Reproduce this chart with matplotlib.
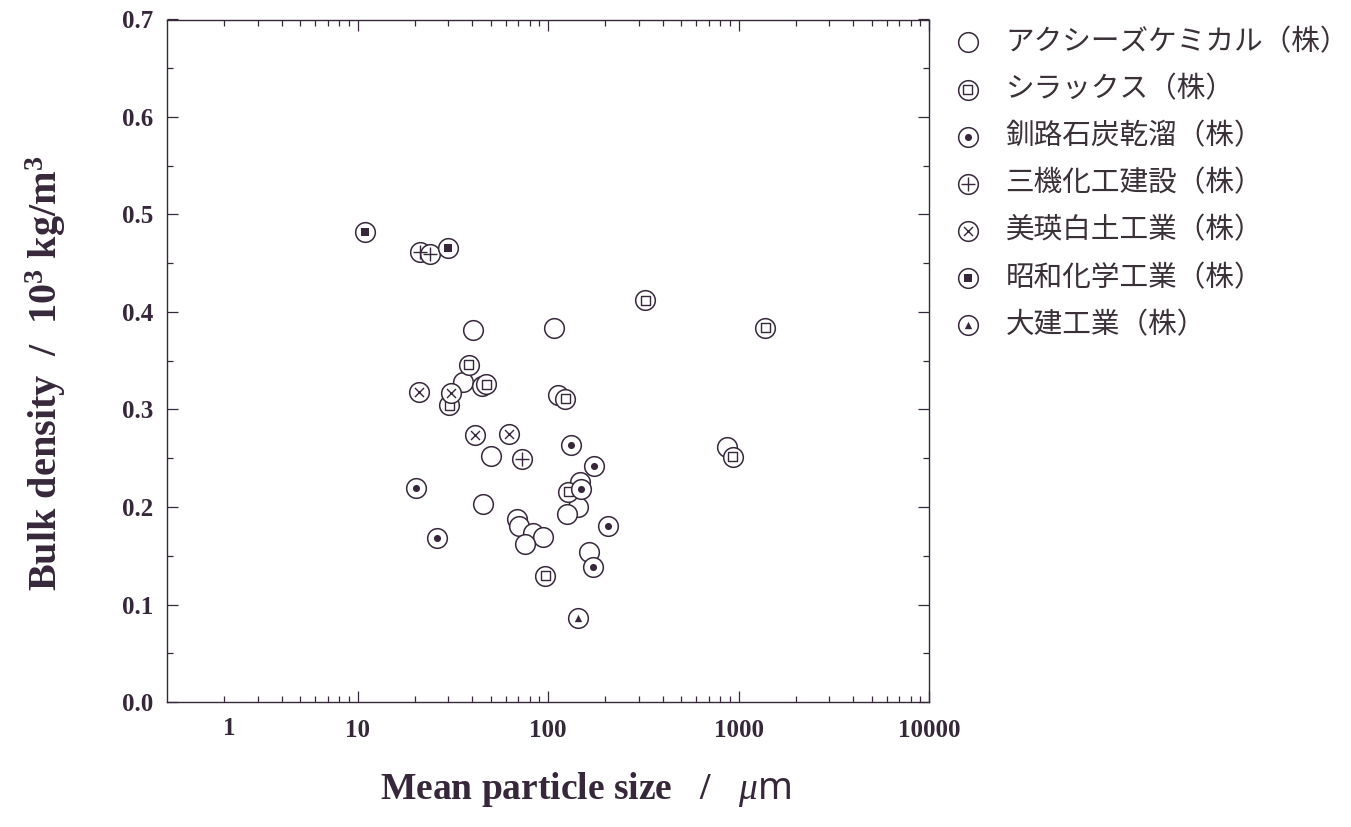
import matplotlib
matplotlib.use("Agg")
import matplotlib.pyplot as plt
from matplotlib.ticker import LogLocator, NullFormatter, MultipleLocator, FixedLocator

plt.rcParams['mathtext.fontset'] = 'custom'
plt.rcParams['mathtext.rm'] = 'Liberation Serif:bold'
plt.rcParams['mathtext.it'] = 'Liberation Serif:italic'
plt.rcParams['mathtext.bf'] = 'Liberation Serif:bold'
plt.rcParams['mathtext.sf'] = 'Noto Sans'

# mean particle size (um) and bulk density (10^3 kg/m^3) per supplier
acsys_size = [40.3, 107.6, 35.7, 45.3, 113, 50.3, 146.8, 45.5, 143.9, 126.4,
              68.9, 70.1, 83.4, 94.1, 76.0, 164.3, 872]
acsys_dens = [0.382, 0.384, 0.3285, 0.324, 0.315, 0.2523, 0.226, 0.2028, 0.1997, 0.1928,
              0.188, 0.1805, 0.1736, 0.1695, 0.162, 0.154, 0.2618]

silax_size = [323, 1382, 38.4, 47.3, 30.4, 123, 127.4, 96.8, 933]
silax_dens = [0.412, 0.384, 0.346, 0.326, 0.3046, 0.311, 0.2157, 0.1295, 0.2516]

kushiro_size = [132.7, 174.6, 20.4, 149.7, 207, 26.2, 172.6]
kushiro_dens = [0.2636, 0.242, 0.219, 0.218, 0.1805, 0.1685, 0.138]

sanki_size = [21.4, 23.9, 73.0]
sanki_dens = [0.462, 0.460, 0.249]

bihoku_size = [21.1, 31.0, 41.6, 62.1]
bihoku_dens = [0.318, 0.3166, 0.274, 0.2745]

showa_size = [10.9, 30.0]
showa_dens = [0.482, 0.466]

daiken_size = [143.9]
daiken_dens = [0.0858]

labels = ['アクシーズケミカル（株）', 'シラックス（株）', '釧路石炭乾溜（株）', '三機化工建設（株）',
          '美瑛白土工業（株）', '昭和化学工業（株）', '大建工業（株）']

ink = '#36283a'

# inner symbol for each supplier: (marker, size, filled)
inner = [None,
         ('s', 42, False),
         ('o', 26, True),
         ('+', 95, False),
         ('x', 42, False),
         ('s', 34, True),
         ('^', 28, True)]

series = [(acsys_size, acsys_dens), (silax_size, silax_dens), (kushiro_size, kushiro_dens),
          (sanki_size, sanki_dens), (bihoku_size, bihoku_dens), (showa_size, showa_dens),
          (daiken_size, daiken_dens)]

fig = plt.figure(figsize=(13.51, 8.27), dpi=100)
ax = fig.add_axes([167 / 1351, 1 - 702 / 827, 762 / 1351, 682.5 / 827])

handles = []
for i, ((xs, ys), sym) in enumerate(zip(series, inner)):
    outer = ax.scatter(xs, ys, s=200, marker='o', facecolor='white', edgecolor=ink,
                       linewidth=1.1, zorder=3 + 2 * i)
    if sym is None:
        handles.append(outer)
        continue
    m, sz, filled = sym
    if m in ('+', 'x'):
        dot = ax.scatter(xs, ys, s=sz, marker=m, color=ink, linewidth=1.0, zorder=4 + 2 * i)
    elif filled:
        dot = ax.scatter(xs, ys, s=sz, marker=m, color=ink, linewidth=0, zorder=4 + 2 * i)
    else:
        dot = ax.scatter(xs, ys, s=sz, marker=m, facecolor='none', edgecolor=ink,
                         linewidth=1.0, zorder=4 + 2 * i)
    handles.append((outer, dot))

ax.set_xscale('log')
ax.set_xlim(1, 10000)
ax.set_ylim(0, 0.7)

ax.xaxis.set_major_locator(FixedLocator([10, 100, 1000, 10000]))
ax.set_xticklabels(['10', '100', '1000', '10000'])
ax.xaxis.set_minor_locator(LogLocator(base=10, subs=range(2, 10), numticks=20))
ax.xaxis.set_minor_formatter(NullFormatter())
ax.yaxis.set_major_locator(MultipleLocator(0.1))
ax.yaxis.set_minor_locator(MultipleLocator(0.05))
ax.yaxis.set_major_formatter(plt.FuncFormatter(lambda v, p: f'{v:.1f}'))

ax.tick_params(which='both', direction='in', top=True, right=True, color=ink, width=0.9)
ax.tick_params(which='major', length=8)
ax.tick_params(which='minor', length=4)
ax.tick_params(axis='x', pad=12)
ax.tick_params(axis='y', pad=10)
for lbl in ax.get_xticklabels() + ax.get_yticklabels():
    lbl.set_fontfamily('Liberation Serif')
    lbl.set_fontweight('bold')
    lbl.set_fontsize(18)
    lbl.set_color(ink)
for sp in ax.spines.values():
    sp.set_color(ink)
    sp.set_linewidth(1.0)

# the "1" label sits right of the corner to keep clear of 0.0
ax.annotate('1', xy=(1, 0), xycoords=('data', 'axes fraction'), xytext=(62, -15),
            textcoords='offset pixels', ha='center', va='top', fontfamily='Liberation Serif',
            fontweight='bold', fontsize=18, color=ink)

ax.set_xlabel(r'Mean particle size   /   $\mu\mathsf{m}$', fontfamily='Liberation Serif',
              fontweight='bold', fontsize=27, color=ink)
ax.xaxis.set_label_coords(0.549, -0.1)
ax.set_ylabel(r'Bulk density  /  10$^{3}$ kg/m$^{3}$', fontfamily='Liberation Serif',
              fontweight='bold', fontsize=29, color=ink)
ax.yaxis.set_label_coords(-0.13, 0.482)

leg = fig.legend(handles, labels, loc='upper left', bbox_to_anchor=(954 / 1351, 1 - 27 / 827),
                 frameon=False, borderpad=0, borderaxespad=0, handlelength=0.95,
                 handletextpad=0.85, labelspacing=0.6, scatterpoints=1,
                 prop={'family': ['Noto Sans CJK JP', 'DejaVu Sans'], 'size': 20.6})
for t in leg.get_texts():
    t.set_color('#3a3038')

fig.savefig('out.png', dpi=100, facecolor='white')
